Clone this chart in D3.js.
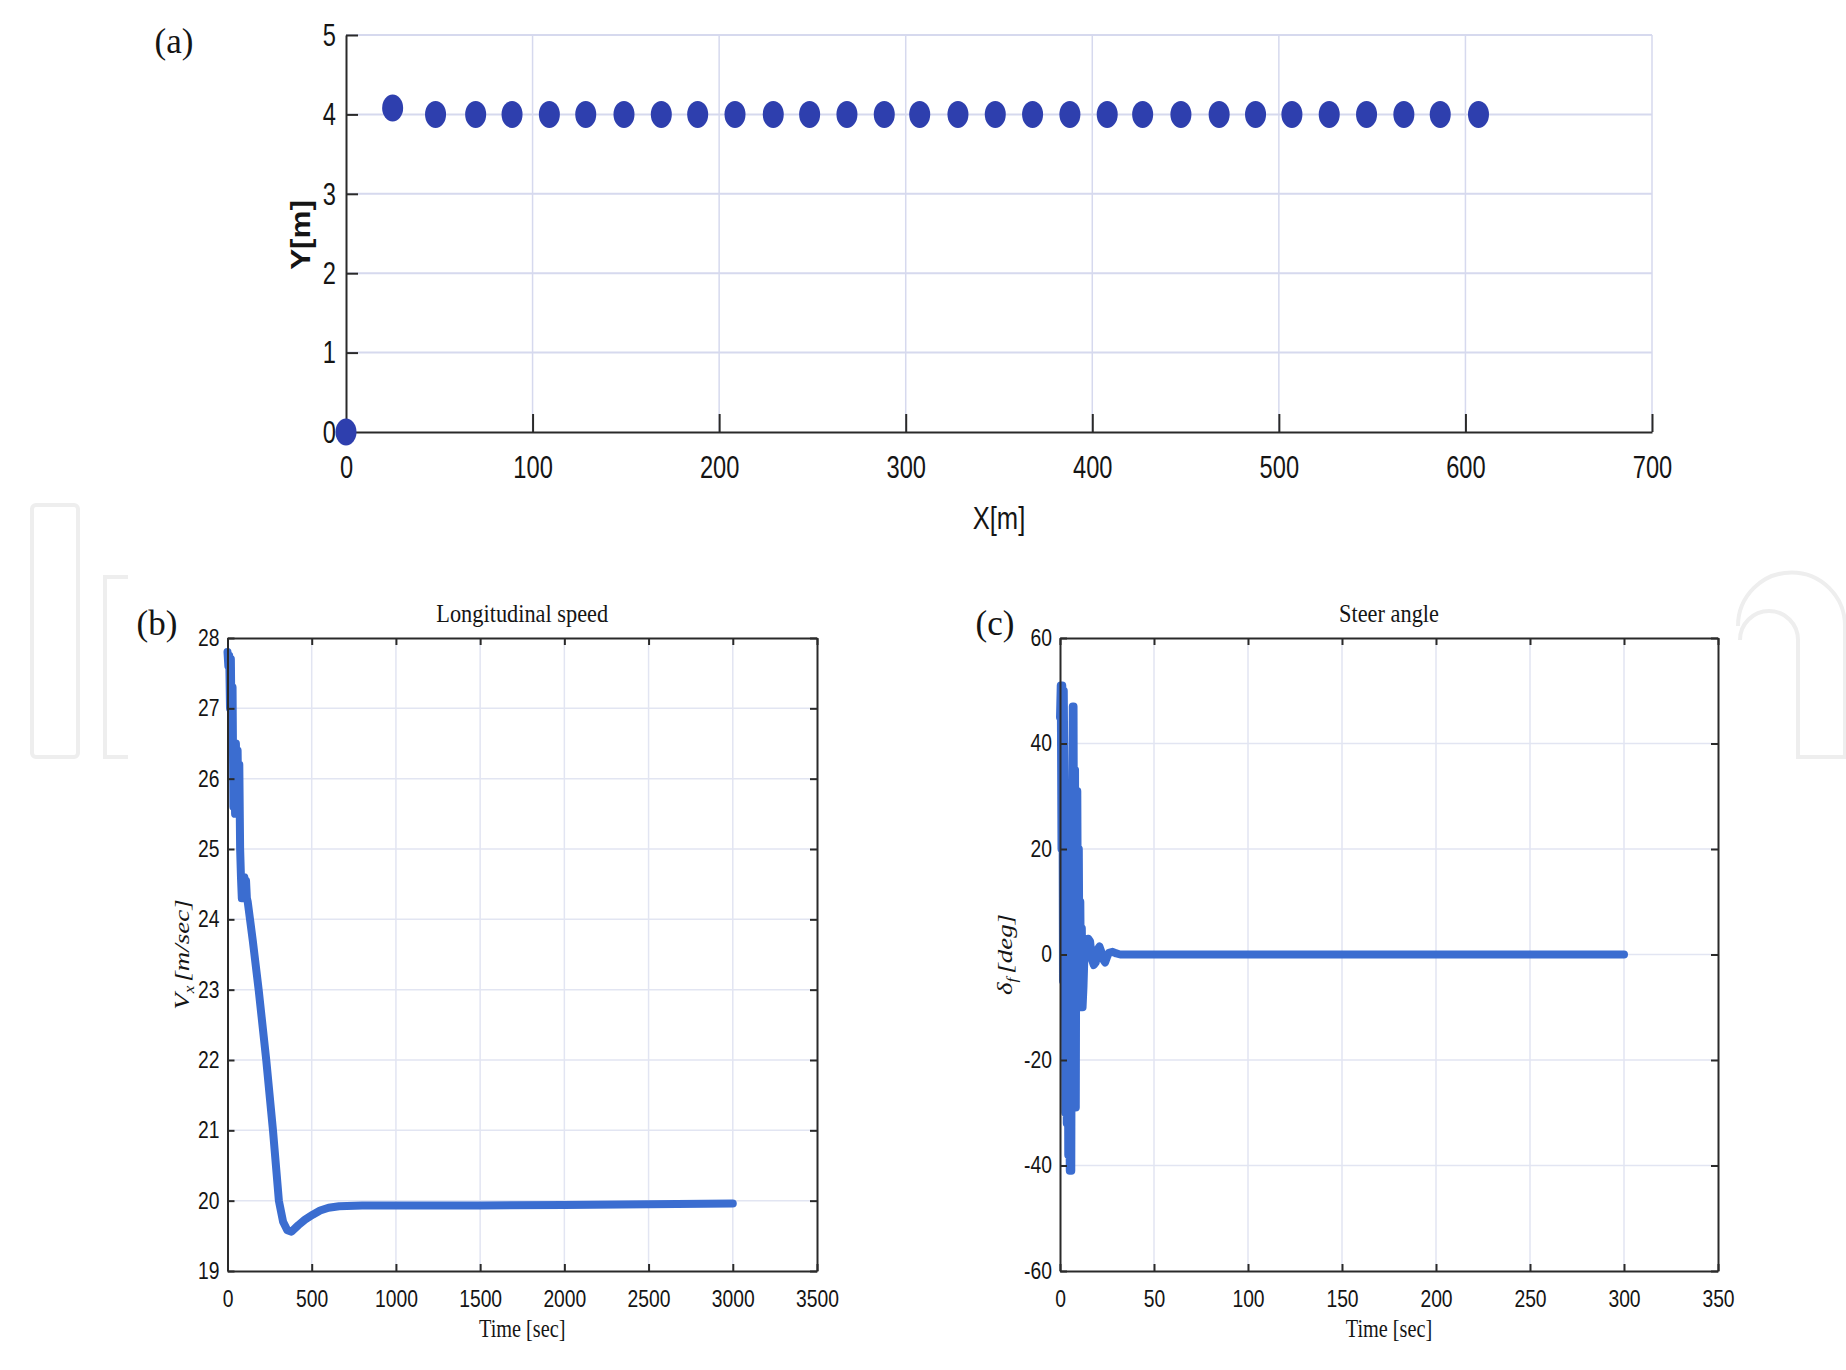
<!DOCTYPE html>
<html>
<head>
<meta charset="utf-8">
<script src="https://cdn.jsdelivr.net/npm/d3@7"></script>
<style>
  body { margin: 0; background: #fff; }
  svg { display: block; }
</style>
</head>
<body>
<svg id="fig" width="1846" height="1370"></svg>
<script>
// ---- data ----
// (a) vehicle positions
const pathX = [0, 25, 48, 69.5, 89, 109, 128.5, 149, 169, 188.5, 208.5, 229, 248.5, 268.5, 288.5,
  307.5, 328, 348, 368, 388, 408, 427, 447.5, 468, 487.5, 507, 527, 547, 567, 586.5, 607];
const pathY = [0, 4.08, 4, 4, 4, 4, 4, 4, 4, 4, 4, 4, 4, 4, 4,
  4, 4, 4, 4, 4, 4, 4, 4, 4, 4, 4, 4, 4, 4, 4, 4];
const pathXTicks = [0, 100, 200, 300, 400, 500, 600, 700];
const pathYTicks = [0, 1, 2, 3, 4, 5];

// (b) longitudinal speed
const speedTime = [0, 5, 10, 15, 20, 25, 30, 35, 40, 45, 50, 55, 60, 65, 70, 75, 80, 85, 90, 95,
  100, 105, 110, 115, 120, 150, 185, 230, 270, 305, 330, 355, 380, 420, 460, 506, 550, 600, 663,
  800, 1000, 1500, 2000, 2500, 3000];
const speedValue = [27.8, 27.6, 27.75, 27.0, 27.7, 26.5, 27.3, 25.6, 26.5, 25.5, 26.5, 25.6, 26.4, 25.5, 26.2, 25.0, 24.6, 24.3, 24.6, 24.3,
  24.6, 24.35, 24.55, 24.3, 24.25, 23.7, 23.0, 22.0, 21.0, 20.0, 19.7, 19.58, 19.56, 19.65, 19.73, 19.8, 19.86, 19.9, 19.92,
  19.93, 19.93, 19.93, 19.94, 19.95, 19.96];
const speedXTicks = [0, 500, 1000, 1500, 2000, 2500, 3000, 3500];
const speedYTicks = [19, 20, 21, 22, 23, 24, 25, 26, 27, 28];

// (c) steer angle
const steerTime = [0, 0.4, 0.8, 1.2, 1.6, 2.0, 2.4, 2.8, 3.2, 3.6, 4.0, 4.4, 4.8, 5.2, 5.6, 6.0, 6.4, 6.8, 7.2, 7.6,
  8.0, 8.4, 8.8, 9.2, 9.6, 10.0, 10.4, 10.8, 11.2, 11.6, 12.0, 12.5, 13, 14, 15, 16, 17, 18, 19, 20,
  21, 22, 23, 24, 25, 26, 28, 30, 32, 300];
const steerValue = [45, 51, 20, 51, -5, 50, 30, -30, 25, -32, 10, -38, -20, -41, -35, -41, 20, 47, 47, -8,
  35, -29, 30, 31, -5, 20, -8, 10, -10, 5, -10, -6, 0, 1, 3, 2.5, -1, -2, -1.5, 1,
  1.5, 0.5, -1, -1.5, -0.5, 0.3, 0.5, 0.2, 0, 0];
const steerXTicks = [0, 50, 100, 150, 200, 250, 300, 350];
const steerYTicks = [-60, -40, -20, 0, 20, 40, 60];

// ---- styling ----
const SANS = '"Liberation Sans",Arial,sans-serif';
const SERIF = '"Liberation Serif","Times New Roman",serif';
const markerColor = "#2e3fae";
const lineColor = "#3b6dd0";
const gridA = "#d6d9ee";
const gridB = "#e2e5f2";
const axisColor = "#2a2a2a";
const ink = "#151515";
const plain = d => String(d);

// the source figure is horizontally squeezed: narrow the glyphs around their anchor
function squeeze(sel, k) {
  sel.each(function () {
    const t = d3.select(this);
    const x = +t.attr("x") || 0;
    t.attr("transform", `translate(${x},0) scale(${k},1) translate(${-x},0)`);
  });
}

const svg = d3.select("#fig");

// faint publisher watermark behind the panels
const wm = svg.append("g").attr("fill", "none").attr("stroke", "#eeeeee").attr("stroke-width", 4);
wm.append("rect").attr("x", 32).attr("y", 505).attr("width", 46).attr("height", 252).attr("rx", 4);
wm.append("path").attr("d", "M128,577 H105 V757 H128");
wm.append("path").attr("d", "M1738,626 A53.5,53.5 0 0 1 1845,626 V757 H1798 V640 A29,29 0 0 0 1740,640");

// ---------- panel (a) ----------
{
  const L = 346, R = 1652, T = 35, B = 432;
  const x = d3.scaleLinear().domain([0, 700]).range([L, R]);
  const y = d3.scaleLinear().domain([0, 5]).range([B, T]);
  const g = svg.append("g");

  // grid
  g.append("g").selectAll("line").data(pathXTicks.slice(1)).join("line")
    .attr("x1", d => x(d)).attr("x2", d => x(d)).attr("y1", T).attr("y2", B)
    .attr("stroke", gridA).attr("stroke-width", 1.5);
  g.append("g").selectAll("line").data(pathYTicks.slice(1)).join("line")
    .attr("x1", L).attr("x2", R).attr("y1", d => y(d)).attr("y2", d => y(d))
    .attr("stroke", gridA).attr("stroke-width", 2);

  // axes (ticks point inward)
  const xAxis = g.append("g").attr("transform", `translate(0,${B})`)
    .call(d3.axisBottom(x).tickValues(pathXTicks).tickFormat(plain).tickSize(-18).tickSizeOuter(0).tickPadding(23));
  const yAxis = g.append("g").attr("transform", `translate(${L},0)`)
    .call(d3.axisLeft(y).tickValues(pathYTicks).tickFormat(plain).tickSize(-12).tickSizeOuter(0).tickPadding(10));
  [xAxis, yAxis].forEach(a => {
    a.selectAll("path,line").attr("stroke", axisColor).attr("stroke-width", 2);
    a.selectAll("text").attr("font-family", SANS).attr("font-size", 32).attr("fill", ink).call(squeeze, 0.74);
  });
  xAxis.selectAll(".tick").filter(d => d === 0).select("line").remove();
  yAxis.selectAll(".tick").filter(d => d === 0).select("line").remove();

  g.append("text").attr("x", (L + R) / 2).attr("y", 529).attr("text-anchor", "middle")
    .attr("font-family", SANS).attr("font-size", 32).attr("fill", ink).text("X[m]").call(squeeze, 0.8);
  g.append("text").attr("transform", `translate(310,235) rotate(-90) scale(1.12,1)`).attr("text-anchor", "middle")
    .attr("font-family", SANS).attr("font-size", 28).attr("font-weight", "bold").attr("fill", ink).text("Y[m]");

  // markers
  g.append("g").selectAll("ellipse").data(pathX.map((v, i) => [v, pathY[i]])).join("ellipse")
    .attr("cx", d => x(d[0])).attr("cy", d => y(d[1]))
    .attr("rx", 10.5).attr("ry", 13.5)
    .attr("fill", markerColor);

  svg.append("text").attr("x", 174).attr("y", 53).attr("text-anchor", "middle")
    .attr("font-family", SERIF).attr("font-size", 35).attr("fill", ink).text("(a)");
}

// ---------- boxed panels (b) and (c) ----------
function boxPanel(opts) {
  const { L, R, T, B, xDomain, yDomain, xTicks, yTicks, times, values, title, label, labelX, yLabelX, yLabel } = opts;
  const x = d3.scaleLinear().domain(xDomain).range([L, R]);
  const y = d3.scaleLinear().domain(yDomain).range([B, T]);
  const g = svg.append("g");

  g.append("rect").attr("x", L).attr("y", T).attr("width", R - L).attr("height", B - T).attr("fill", "#fff");

  g.append("g").selectAll("line").data(xTicks.slice(1, -1)).join("line")
    .attr("x1", d => x(d)).attr("x2", d => x(d)).attr("y1", T).attr("y2", B)
    .attr("stroke", gridB).attr("stroke-width", 1.5);
  g.append("g").selectAll("line").data(yTicks.slice(1, -1)).join("line")
    .attr("x1", L).attr("x2", R).attr("y1", d => y(d)).attr("y2", d => y(d))
    .attr("stroke", gridB).attr("stroke-width", 1.5);

  const line = d3.line().x((d, i) => x(times[i])).y(d => y(d));
  g.append("path").datum(values).attr("d", line)
    .attr("fill", "none").attr("stroke", lineColor).attr("stroke-width", 8)
    .attr("stroke-linejoin", "round").attr("stroke-linecap", "round");

  const axes = [
    g.append("g").attr("transform", `translate(0,${B})`)
      .call(d3.axisBottom(x).tickValues(xTicks).tickFormat(plain).tickSize(-7).tickSizeOuter(0).tickPadding(20)),
    g.append("g").attr("transform", `translate(0,${T})`)
      .call(d3.axisTop(x).tickValues(xTicks).tickSize(-7).tickSizeOuter(0).tickFormat("")),
    g.append("g").attr("transform", `translate(${L},0)`)
      .call(d3.axisLeft(y).tickValues(yTicks).tickFormat(plain).tickSize(-7).tickSizeOuter(0).tickPadding(8)),
    g.append("g").attr("transform", `translate(${R},0)`)
      .call(d3.axisRight(y).tickValues(yTicks).tickSize(-7).tickSizeOuter(0).tickFormat(""))
  ];
  axes.forEach(a => {
    a.selectAll("path,line").attr("stroke", axisColor).attr("stroke-width", 2);
    a.selectAll("text").attr("font-family", SANS).attr("font-size", 23).attr("fill", ink).call(squeeze, 0.84);
  });

  const cx = (L + R) / 2;
  g.append("text").attr("x", cx).attr("y", 622).attr("text-anchor", "middle")
    .attr("font-family", SERIF).attr("font-size", 26).attr("fill", ink).text(title).call(squeeze, 0.86);
  g.append("text").attr("x", cx).attr("y", 1337).attr("text-anchor", "middle")
    .attr("font-family", SERIF).attr("font-size", 26).attr("fill", ink).text("Time [sec]").call(squeeze, 0.78);

  const yl = g.append("text").attr("transform", `translate(${yLabelX},${(T + B) / 2}) rotate(-90) scale(1,0.8)`)
    .attr("text-anchor", "middle").attr("font-family", SERIF).attr("font-size", 27)
    .attr("font-style", "italic").attr("fill", ink);
  yl.append("tspan").text(yLabel[0]);
  yl.append("tspan").attr("font-size", 17).attr("dy", 6).text(yLabel[1]);
  yl.append("tspan").attr("dy", -6).attr("dx", 4).text(yLabel[2]);

  svg.append("text").attr("x", labelX).attr("y", 635).attr("text-anchor", "middle")
    .attr("font-family", SERIF).attr("font-size", 35).attr("fill", ink).text(label);
}

boxPanel({
  L: 227.5, R: 817, T: 638, B: 1271,
  xDomain: [0, 3500], yDomain: [19, 28],
  xTicks: speedXTicks, yTicks: speedYTicks,
  times: speedTime, values: speedValue,
  title: "Longitudinal speed", label: "(b)", labelX: 157, yLabelX: 189,
  yLabel: ["V", "x", "[m/sec]"]
});

boxPanel({
  L: 1060, R: 1718, T: 638, B: 1271,
  xDomain: [0, 350], yDomain: [-60, 60],
  xTicks: steerXTicks, yTicks: steerYTicks,
  times: steerTime, values: steerValue,
  title: "Steer angle", label: "(c)", labelX: 995, yLabelX: 1012,
  yLabel: ["δ", "f", "[deg]"]
});
</script>
</body>
</html>
